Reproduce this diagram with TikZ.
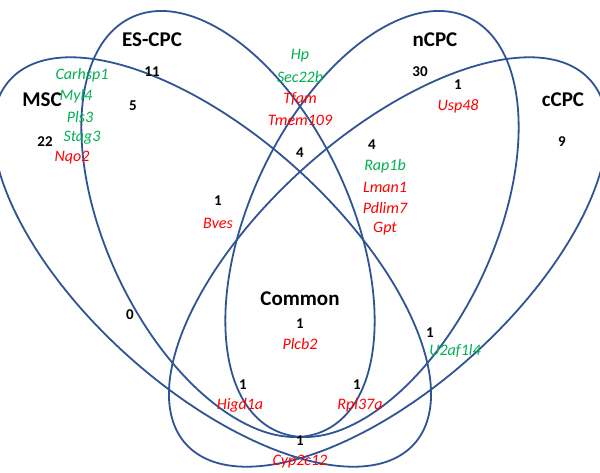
\documentclass[tikz,border=0pt]{standalone}
\usepackage{fontspec}
\setmainfont{Carlito}
\definecolor{eblue}{RGB}{47,84,150}
\definecolor{ggreen}{RGB}{0,176,80}
\definecolor{rred}{RGB}{255,0,0}
\begin{document}
\begin{tikzpicture}[x=1pt,y=-1pt,
  set/.style={draw=eblue,line width=1.8pt},
  num/.style={font=\fontsize{15}{15}\selectfont\bfseries},
  lab/.style={font=\fontsize{21}{21}\selectfont\bfseries},
  gg/.style={font=\fontsize{16}{16}\selectfont\itshape,text=ggreen},
  gr/.style={font=\fontsize{16}{16}\selectfont\itshape,text=rred}]
\useasboundingbox (0,0) rectangle (600,473);
\draw[set] (212,262) ellipse[x radius=272,y radius=126,rotate=-42];
\draw[set] (228,224) ellipse[x radius=228,y radius=122,rotate=-65];
\draw[set] (372,224) ellipse[x radius=228,y radius=122,rotate=65];
\draw[set] (388,262) ellipse[x radius=272,y radius=126,rotate=42];
\node[lab] (lmsc) at (42,100) {MSC};
\node[num] (n22) at (45,142) {22};
\node[lab] (les) at (152,40) {ES-CPC};
\node[num] (n11) at (152,72) {11};
\node[lab] (lnc) at (435,40) {nCPC};
\node[num] (n30) at (420,72) {30};
\node[lab] (lcc) at (563,100) {cCPC};
\node[num] (n9) at (562,142) {9};
\node[gg] (g1) at (82,75) {Carhsp1};
\node[gg] (g2) at (76,96) {Myl4};
\node[gg] (g3) at (80,117) {Pls3};
\node[gg] (g4) at (82,138) {Stag3};
\node[gr] (g5) at (72,158) {Nqo2};
\node[num] (n5) at (133,106) {5};
\node[num] (n1a) at (218,201) {1};
\node[gr] (bves) at (218,223) {Bves};
\node[gg] (hp) at (300,56) {Hp};
\node[gg] (sec) at (300,77) {Sec22b};
\node[gr] (tfam) at (300,99) {Tfam};
\node[gr] (tmem) at (300,120) {Tmem109};
\node[num] (n4a) at (300,153) {4};
\node[num] (n1b) at (458,85) {1};
\node[gr] (usp) at (458,106) {Usp48};
\node[num] (n4b) at (372,145) {4};
\node[gg] (rap) at (385,166) {Rap1b};
\node[gr] (lman) at (385,187) {Lman1};
\node[gr] (pdl) at (385,208) {Pdlim7};
\node[gr] (gpt) at (385,229) {Gpt};
\node[num] (n0) at (130,315) {0};
\node[lab] (com) at (300,299) {Common};
\node[num] (n1c) at (300,324) {1};
\node[gr] (plc) at (300,344) {Plcb2};
\node[num] (n1d) at (430,333) {1};
\node[gg] (u2) at (455,351) {U2af1l4};
\node[num] (n1e) at (243,385) {1};
\node[gr] (hig) at (240,405) {Higd1a};
\node[num] (n1f) at (357,385) {1};
\node[gr] (rpl) at (360,405) {Rpl37a};
\node[num] (n1g) at (300,441) {1};
\node[gr] (cyp) at (300,462) {Cyp2c12};
\end{tikzpicture}
\end{document}
